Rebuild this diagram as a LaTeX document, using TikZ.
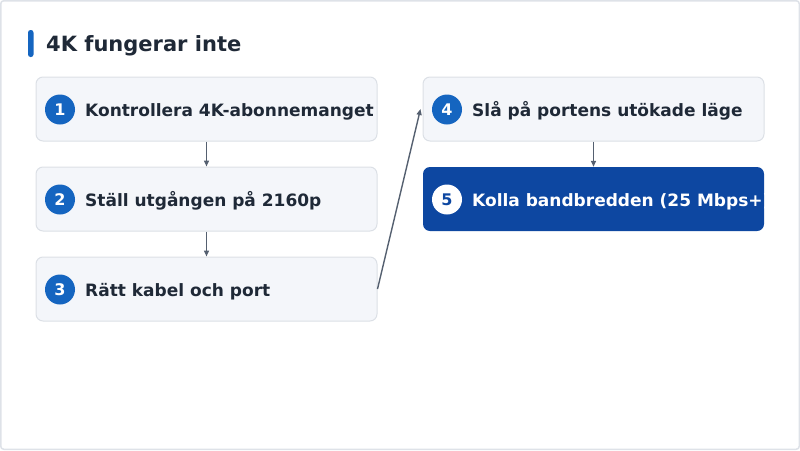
\documentclass[tikz,border=0pt]{standalone}
\usepackage{fontspec}
\setmainfont{DejaVu Sans}
\usetikzlibrary{arrows.meta}
\definecolor{boxfill}{RGB}{244,246,250}
\definecolor{boxline}{RGB}{220,224,230}
\definecolor{numblue}{RGB}{21,101,192}
\definecolor{darkblue}{RGB}{13,71,161}
\definecolor{txt}{RGB}{31,41,55}
\definecolor{arr}{RGB}{85,96,112}
\definecolor{frame}{RGB}{222,226,232}
\tikzset{
  stepbox/.style={draw=boxline, line width=1pt, fill=boxfill, rounded corners=7pt, minimum width=341pt, minimum height=64pt, inner sep=0pt},
  darkbox/.style={fill=darkblue, rounded corners=7pt, minimum width=341pt, minimum height=64pt, inner sep=0pt},
  num/.style={circle, fill=numblue, minimum size=30pt, inner sep=0pt, text=white, font=\fontsize{16}{18}\selectfont\bfseries},
  numw/.style={circle, fill=white, minimum size=30pt, inner sep=0pt, text=darkblue, font=\fontsize{16}{18}\selectfont\bfseries},
  lbl/.style={anchor=base west, inner sep=0pt, text=txt, font=\fontsize{17}{20}\selectfont\bfseries},
  conn/.style={draw=arr, line width=1.4pt, -{Triangle[length=6pt,width=5pt]}},
}
\begin{document}
\begin{tikzpicture}[x=1pt,y=-1pt]
\useasboundingbox (0,0) rectangle (800,450);
\draw[frame, line width=1.5pt, rounded corners=3pt] (0.75,0.75) rectangle (799.25,449.25);
\fill[numblue, rounded corners=2.5pt] (28,30) rectangle (33.5,57);
\node[anchor=base west, inner sep=0pt, text=txt, font=\fontsize{21}{24}\selectfont\bfseries] (title) at (46,51.5) {4K fungerar inte};
% boxes
\node[stepbox] (b1) at (206.5,109) {};
\node[stepbox] (b2) at (206.5,199) {};
\node[stepbox] (b3) at (206.5,289) {};
\node[stepbox] (b4) at (593.5,109) {};
\node[darkbox] (b5) at (593.5,199) {};
\node[num] (n1) at (60,109.5) {1};
\node[num] (n2) at (60,199.5) {2};
\node[num] (n3) at (60,289.5) {3};
\node[num] (n4) at (447,109.5) {4};
\node[numw] (n5) at (447,199.5) {5};
\node[lbl] (t1) at (85,116) {Kontrollera 4K-abonnemanget};
\node[lbl] (t2) at (85,206) {Ställ utgången på 2160p};
\node[lbl] (t3) at (85,296) {Rätt kabel och port};
\node[lbl] (t4) at (472,116) {Slå på portens utökade läge};
\node[lbl, text=white] (t5) at (472,206) {Kolla bandbredden (25 Mbps+)};
% connectors
\draw[conn] (b1.south) -- (b2.north);
\draw[conn] (b2.south) -- (b3.north);
\draw[conn] (b4.south) -- (b5.north);
\draw[conn] (b3.east) -- ([xshift=-2pt]b4.west);
\end{tikzpicture}
\end{document}
